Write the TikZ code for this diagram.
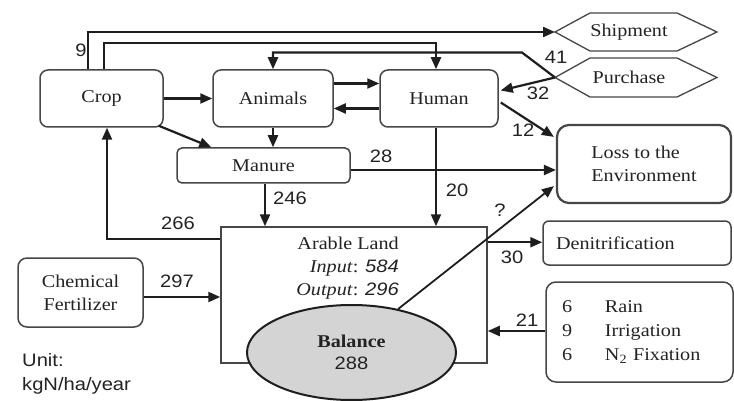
\documentclass[tikz,border=0pt]{standalone}
\usepackage{fontspec}
\setmainfont{Liberation Serif}[FakeStretch=1.12]
\setsansfont{Liberation Sans}[FakeStretch=1.12]
\usetikzlibrary{arrows.meta,calc,shapes.geometric}
\definecolor{linec}{RGB}{30,30,30}
\definecolor{boxc}{RGB}{70,70,70}
\definecolor{txtc}{RGB}{35,35,35}
\definecolor{ellc}{RGB}{212,212,212}
\newcommand\lblfont{\fontsize{18}{23}\selectfont}
\newcommand\numfont{\sffamily\fontsize{18}{22}\selectfont}
\tikzset{
  box/.style={draw=boxc, line width=1.5pt, rounded corners=8pt, inner sep=2pt, font=\lblfont, text=txtc},
  hexline/.style={draw=boxc, line width=1.3pt},
  flow/.style={draw=linec, line width=2.2pt, -{Triangle[length=12pt,width=10pt]}},
  num/.style={font=\numfont, text=txtc, inner sep=0pt},
}
\begin{document}
\begin{tikzpicture}[x=1pt,y=-1pt]
\useasboundingbox (0,0) rectangle (734,401);
\fill[white] (0,0) rectangle (734,401);

% boxes
\node[box, minimum width=123pt, minimum height=57pt] (crop) at (101.5,98.5) {Crop};
\node[box, minimum width=120pt, minimum height=57pt] (animals) at (273,98.5) {Animals};
\node[box, minimum width=118pt, minimum height=57pt] (human) at (439,98.5) {Human};
\node[box, minimum width=173pt, minimum height=35pt, rounded corners=5pt] (manure) at (263.5,165.5) {Manure};
\node[box, line width=2.2pt, rounded corners=12pt, minimum width=174pt, minimum height=78pt, align=left] (loss) at (644,164) {Loss to the\\Environment};

\node[font=\lblfont, text=txtc, inner sep=0pt] (ship) at (629,32) {Shipment};
\draw[hexline] ($(ship)+(-74,0)$) coordinate (shipL) -- ($(ship)+(-39,-19)$) -- ($(ship)+(48,-19)$) -- ($(ship)+(88,0)$) -- ($(ship)+(48,19)$) -- ($(ship)+(-39,19)$) -- cycle;
\node[font=\lblfont, text=txtc, inner sep=0pt] (pur) at (629,77.5) {Purchase};
\draw[hexline] ($(pur)+(-74,0)$) coordinate (purL) -- ($(pur)+(-39,-19.5)$) -- ($(pur)+(48,-19.5)$) -- ($(pur)+(88,0)$) -- ($(pur)+(48,19.5)$) -- ($(pur)+(-39,19.5)$) -- cycle;

\node[box, minimum width=188pt, minimum height=44pt, rounded corners=6pt, text width=162pt, align=left] (denit) at (637,243) {Denitrification};
\node[box, minimum width=187pt, minimum height=100pt, rounded corners=10pt, text width=155pt, align=left] (rain) at (639.5,332)
  {\renewcommand\arraystretch{1.04}\begin{tabular}{@{}p{43pt}@{}l@{}}6&Rain\\9&Irrigation\\6&N\textsubscript{2} Fixation\end{tabular}};

\node[draw=boxc, line width=1.5pt, minimum width=266pt, minimum height=136pt, inner sep=0pt] (arable) at (354,295) {};
\node[font=\lblfont, text=txtc, align=right, anchor=north east, inner sep=0pt] (arabletxt) at (399,237)
  {Arable Land\\\textit{Input}: \textsf{\itshape 584}\\\textit{Output}: \textsf{\itshape 296}};
\node[ellipse, draw=linec, line width=2pt, fill=ellc, minimum width=209pt, minimum height=95pt, inner sep=0pt,
      align=center, font=\fontsize{18}{22}\selectfont, text=txtc] (balance) at (351.5,352.5) {\textbf{Balance}\\\textsf{288}};

\node[box, minimum width=125pt, minimum height=69pt, rounded corners=9pt, align=center] (chem) at (80.5,292.5) {Chemical\\Fertilizer};
\node[font=\sffamily\fontsize{18}{24}\selectfont, text=txtc, align=left, anchor=north west, inner sep=0pt] (unit) at (22,353) {Unit:\\kgN/ha/year};

% connectors
\draw[flow] (crop.east) -- (animals.west);
\draw[flow] ($(crop.south east)+(-5,-2)$) -- ($(manure.north west)+(35,0)$);
\draw[flow] (animals.south) -- (animals.south |- manure.north);
\draw[flow] ($(animals.east)+(0,-15)$) -- ($(human.west)+(0,-15)$);
\draw[flow] ($(human.west)+(0,10)$) -- ($(animals.east)+(0,10)$);

\coordinate (c9) at ($(crop.north west)+(49,0)$);
\draw[flow] (c9) |- (shipL);
\node[num] (l9) at (81,50) {9};
\coordinate (cH) at ($(crop.north west)+(65,0)$);
\draw[flow] (cH) -- ++(0,-26) -| ($(human.north)+(-3,0)$);
\draw[flow] (purL) -- ++(-33,-25) -| (animals.north);
\node[num] (l41) at (556,57) {41};
\draw[flow] (purL) -- ($(human.east)+(2,-8)$);
\node[num] (l32) at (538,93) {32};
\draw[flow] ($(human.east)+(2,4)$) -- ($(loss.north west)+(-2,13)$);
\node[num] (l12) at (523,130) {12};

\coordinate (m28) at ($(manure.east)+(0,4.5)$);
\draw[flow] (m28) -- (m28 -| loss.west);
\node[num] (l28) at (381,156) {28};
\coordinate (h20) at ($(human.south)+(-3,0)$);
\draw[flow] (h20) -- (h20 |- arable.north);
\node[num] (l20) at (457,190) {20};
\coordinate (m246) at ($(manure.south)+(1.5,0)$);
\draw[flow] (m246) -- (m246 |- arable.north);
\node[num] (l246) at (290,198) {246};
\coordinate (a266) at ($(arable.north west)+(0,13)$);
\draw[flow] (a266) -| ($(crop.south)+(5.5,0)$);
\node[num] (l266) at (178,223) {266};
\coordinate (c297) at ($(chem.east)+(0,4.5)$);
\draw[flow] (c297) -- (c297 -| arable.west);
\node[num] (l297) at (177,281) {297};
\draw[flow, line width=1.8pt] (balance.43) -- ($(loss.south west)+(-2,-18)$);
\node[num] (lq) at (500,210) {?};
\coordinate (a30) at ($(arable.north east)+(0,16)$);
\draw[flow] (a30) -- (a30 -| denit.west);
\node[num] (l30) at (512,257) {30};
\coordinate (r21) at ($(rain.west)+(0,-1)$);
\draw[flow] (r21) -- (r21 -| arable.east);
\node[num] (l21) at (527,320) {21};
\end{tikzpicture}
\end{document}
